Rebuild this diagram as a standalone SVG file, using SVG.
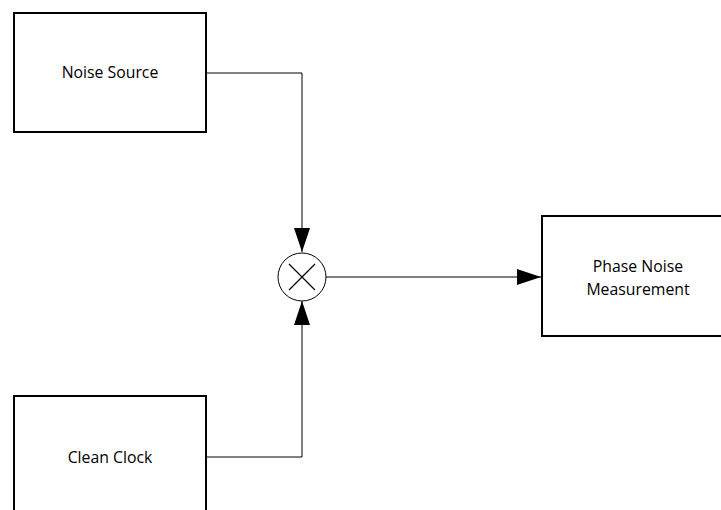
<svg xmlns="http://www.w3.org/2000/svg" width="721" height="510" viewBox="0 0 721 510">
<style>
.box{fill:#fff;stroke:#000;stroke-width:2}
.lbl{font-family:"Open Sans","Liberation Sans",Arial,sans-serif;font-size:15.8px;fill:#000;text-anchor:middle;dominant-baseline:central}
.wire{fill:none;stroke:#000;stroke-width:1}
</style>
<defs>
<marker id="arr" viewBox="0 0 24 16" refX="24" refY="8" markerWidth="24" markerHeight="16" markerUnits="userSpaceOnUse" orient="auto">
<path d="M0,0 L24,8 L0,16 Z" fill="#000"/>
</marker>
</defs>
<rect width="721" height="510" fill="#fff"/>
<g id="connectors">
<path class="wire" d="M206,73 H302 V252" marker-end="url(#arr)"/>
<path class="wire" d="M206,457 H302 V301" marker-end="url(#arr)"/>
<path class="wire" d="M326,277 H541" marker-end="url(#arr)"/>
</g>
<g id="noise-source">
<rect class="box" x="14" y="13" width="192" height="119"/>
<text class="lbl" x="110" y="72">Noise Source</text>
</g>
<g id="clean-clock">
<rect class="box" x="14" y="396" width="192" height="120"/>
<text class="lbl" x="110" y="457">Clean Clock</text>
</g>
<g id="mixer">
<circle cx="302" cy="277" r="24" fill="#fff" stroke="#000" stroke-width="1"/>
<path d="M289,264 L315,290 M315,264 L289,290" stroke="#000" stroke-width="1.2" fill="none"/>
</g>
<g id="phase-noise-measurement">
<rect class="box" x="542" y="216" width="184" height="120"/>
<text class="lbl" x="638" y="266">Phase Noise</text>
<text class="lbl" x="638" y="289">Measurement</text>
</g>
</svg>
